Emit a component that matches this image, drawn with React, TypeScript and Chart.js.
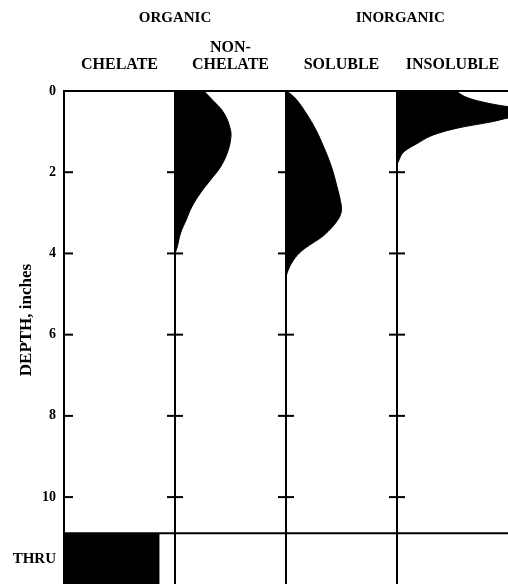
import { useEffect, useRef } from 'react';
import { Chart, registerables } from 'chart.js';

Chart.register(...registerables);

// ---- data ----
const columnLabels: (string | string[])[] = ['CHELATE', ['NON-', 'CHELATE'], 'SOLUBLE', 'INSOLUBLE'];
const columnCenters = [0.5, 1.5, 2.5, 3.5];
const columnLines = [1, 2, 3];
const groupLabels = ['ORGANIC', 'INORGANIC'];
const groupCenters = [1, 3.03];

const yTickValues = [0, 2, 4, 6, 8, 10, 11.53];
const yTickLabels = ['0', '2', '4', '6', '8', '10', 'THRU'];
const columnTickDepths = [2, 4, 6, 8, 10];
const maxDepth = 12.14;
const thruDepth = 10.89;
const depthTitle = 'DEPTH, inches';
const depthTitleAt = 5.64;

// relative amount, 100 = one full column width
const chelateThru = 86;

const nonChelateDepth = [0, 0.2, 0.54, 0.96, 1.21, 1.53, 1.87, 2.19, 2.51, 2.86, 3.18, 3.5, 3.84, 4.0];
const nonChelateValue = [26, 33, 44, 50, 50, 47, 41, 32, 23, 15, 10, 5, 2, 0];

const solubleDepth = [0, 0.2, 0.54, 0.96, 1.38, 1.87, 2.36, 2.7, 2.9, 3.05, 3.2, 3.4, 3.6, 3.8, 3.99, 4.24, 4.48, 4.6];
const solubleValue = [1, 9, 18, 27, 34, 41, 46, 49, 50, 49, 46, 40, 32, 21, 12, 5, 1, 0];

const insolubleDepth = [0, 0.17, 0.3, 0.39, 0.5, 0.66, 0.76, 0.91, 1.08, 1.28, 1.5, 1.75, 1.8];
const insolubleValue = [53, 64, 82, 101, 135, 101, 85, 55, 33, 19, 6, 1, 0];

const FONT = '"Liberation Serif", "Times New Roman", serif';

function profile(col: number, depths: number[], values: number[], smooth: boolean) {
  return {
    type: 'line' as const,
    indexAxis: 'y' as const,
    data: depths.map((d, i) => ({ x: col + values[i] / 100, y: d })),
    fill: { value: col },
    backgroundColor: '#000',
    borderColor: '#000',
    borderWidth: 1,
    pointRadius: 0,
    tension: smooth ? 0.4 : 0,
    cubicInterpolationMode: smooth ? ('default' as const) : ('monotone' as const),
  };
}

const textPlugin = {
  id: 'texts',
  afterDraw(chart: any) {
    const { ctx } = chart;
    const xs = chart.scales.x;
    const ys = chart.scales.y;
    ctx.save();
    ctx.fillStyle = '#000';
    ctx.textAlign = 'center';
    ctx.textBaseline = 'middle';
    ctx.font = `bold 15px ${FONT}`;
    groupLabels.forEach((l, i) => ctx.fillText(l, xs.getPixelForValue(groupCenters[i]), 18));
    ctx.translate(27, ys.getPixelForValue(depthTitleAt));
    ctx.rotate(-Math.PI / 2);
    ctx.font = `bold 17px ${FONT}`;
    ctx.fillText(depthTitle, 0, 0);
    ctx.restore();
  },
};

const zeroPad = (s: any) => {
  s.paddingLeft = 0;
  s.paddingRight = 0;
  s.paddingTop = 0;
  s.paddingBottom = 0;
};

export default function App() {
  const ref = useRef<HTMLCanvasElement>(null);
  useEffect(() => {
    if (!ref.current) return;
    const columnTicks: { x: number; y: number }[] = [];
    columnLines.forEach((c) => columnTickDepths.forEach((d) => columnTicks.push({ x: c, y: d })));
    const chart = new Chart(ref.current, {
      type: 'line',
      data: {
        datasets: [
          profile(1, nonChelateDepth, nonChelateValue, true),
          profile(2, solubleDepth, solubleValue, true),
          profile(3, insolubleDepth, insolubleValue, false),
          {
            type: 'line',
            indexAxis: 'y',
            data: [
              { x: chelateThru / 100, y: thruDepth },
              { x: chelateThru / 100, y: maxDepth },
            ],
            fill: { value: 0 },
            backgroundColor: '#000',
            borderColor: '#000',
            borderWidth: 0,
            pointRadius: 0,
          },
          {
            type: 'line',
            data: [
              { x: 0, y: thruDepth },
              { x: 4, y: thruDepth },
            ],
            borderColor: '#000',
            borderWidth: 2,
            pointRadius: 0,
            fill: false,
          },
          {
            type: 'scatter',
            data: columnTicks,
            pointStyle: 'line',
            radius: 8,
            borderColor: '#000',
            borderWidth: 2,
          },
          {
            type: 'scatter',
            data: columnTickDepths.map((d) => ({ x: 0, y: d })),
            pointStyle: 'line',
            radius: 9,
            borderColor: '#000',
            borderWidth: 2,
            clip: 0,
          },
        ] as any,
      },
      options: {
        animation: false,
        responsive: true,
        maintainAspectRatio: false,
        layout: { padding: 0, autoPadding: false },
        plugins: { legend: { display: false }, tooltip: { enabled: false } },
        elements: { point: { hoverRadius: 0 } },
        events: [],
        scales: {
          x: {
            type: 'linear',
            position: 'top',
            min: 0,
            max: 4,
            afterBuildTicks: (s: any) => {
              s.ticks = columnCenters.map((v) => ({ value: v }));
            },
            afterFit: (s: any) => {
              s.height = 91;
              zeroPad(s);
            },
            ticks: {
              callback: (_v: any, i: number) => columnLabels[i],
              font: { family: FONT, size: 16, weight: 'bold', lineHeight: 1.06 },
              color: '#000',
              padding: 18,
              maxRotation: 0,
              autoSkip: false,
            },
            grid: { display: false, drawTicks: false },
            border: { display: true, color: '#000', width: 2 },
          },
          xg: {
            type: 'linear',
            position: 'top',
            min: 0,
            max: 4,
            afterBuildTicks: (s: any) => {
              s.ticks = columnLines.map((v) => ({ value: v }));
            },
            afterFit: (s: any) => {
              s.height = 0;
              zeroPad(s);
            },
            ticks: { display: false },
            grid: { color: '#000', lineWidth: 2, drawTicks: false },
            border: { display: false },
          },
          y: {
            type: 'linear',
            reverse: true,
            min: 0,
            max: maxDepth,
            afterBuildTicks: (s: any) => {
              s.ticks = yTickValues.map((v) => ({ value: v }));
            },
            afterFit: (s: any) => {
              s.width = 64;
              zeroPad(s);
            },
            ticks: {
              callback: (_v: any, i: number) => yTickLabels[i],
              font: (c: any) => ({
                family: FONT,
                weight: 'bold',
                size: yTickLabels[c.index] === 'THRU' ? 15 : 14,
              }),
              color: '#000',
              padding: 8,
              autoSkip: false,
            },
            grid: { display: false, drawTicks: false },
            border: { display: true, color: '#000', width: 2 },
          },
        } as any,
      },
      plugins: [textPlugin],
    });
    return () => chart.destroy();
  }, []);
  return (
    <div style={{ position: 'absolute', left: 0, top: 0, width: 508, height: 584 }}>
      <canvas ref={ref} />
    </div>
  );
}
